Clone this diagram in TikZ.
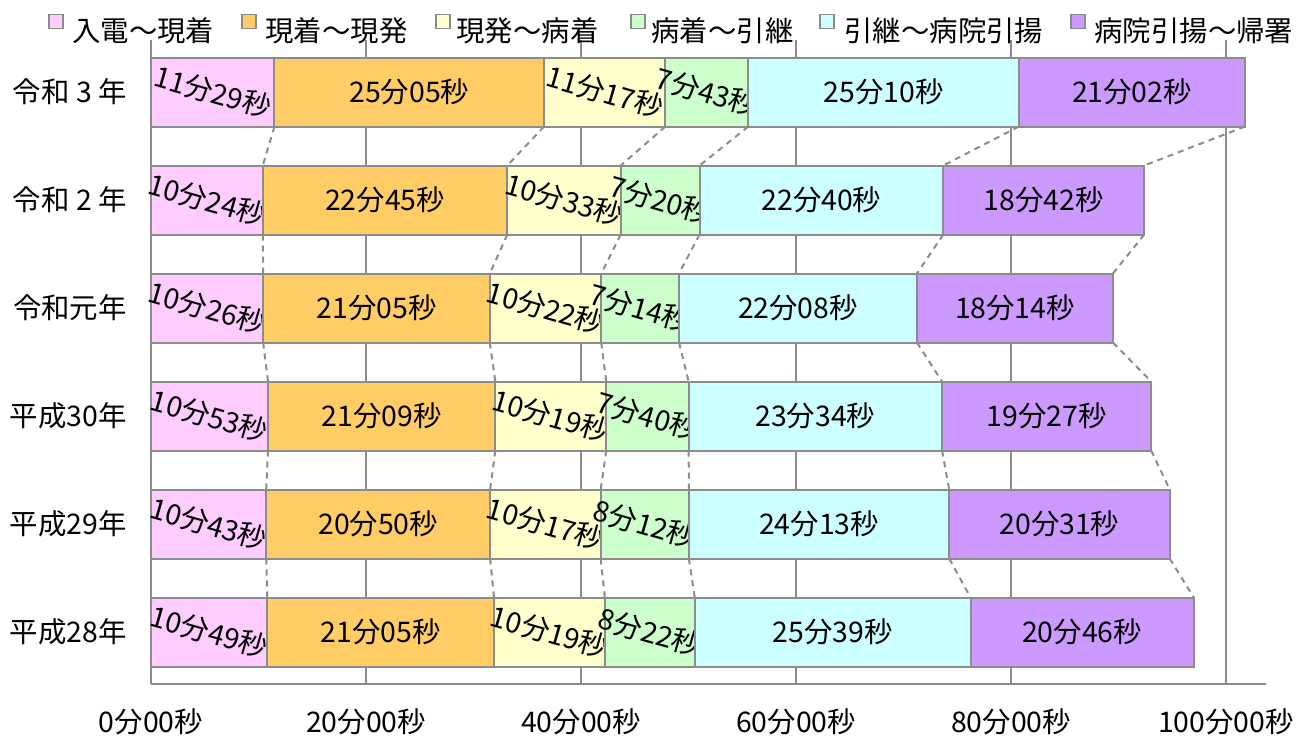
\documentclass[tikz,border=0pt]{standalone}
\usepackage{fontspec}
\setmainfont{Noto Sans CJK JP}
\usepackage{xcolor}
\definecolor{c1}{HTML}{FFCCFF}
\definecolor{c2}{HTML}{FFCC66}
\definecolor{c3}{HTML}{FFFFCC}
\definecolor{c4}{HTML}{CCFFCC}
\definecolor{c5}{HTML}{CCFFFF}
\definecolor{c6}{HTML}{CC99FF}
\definecolor{grid}{HTML}{8C8C8C}
\newcommand\fs{\fontsize{14.2}{16}\selectfont}

\begin{document}
\begin{tikzpicture}[x=0.5pt,y=-0.5pt,font=\fs,
    seg/.style={draw=grid,line width=1pt,inner sep=0pt,outer sep=0pt,minimum height=34.5pt,anchor=west},
    flat/.style={inner sep=0pt},
    tilt/.style={inner sep=0pt,rotate=-16},
    lab1/.style={tilt},lab2/.style={flat},lab3/.style={tilt},
    lab4/.style={tilt},lab5/.style={flat},lab6/.style={flat},
    key/.style={draw=grid,line width=0.7pt,minimum size=7pt,inner sep=0pt},
    link/.style={draw=grid,line width=1pt,dash pattern=on 3pt off 2.5pt}]
    \useasboundingbox (0,0) rectangle (1298,735);
    \foreach \v [count=\k from 0] in {0,20,40,60,80,100}{
        \draw[grid,line width=1pt] (151+10.75*\v,40) -- (151+10.75*\v,684);
        \node (a\k) at (151+10.75*\v,722) {{\v}分00秒};
    }
    \draw[grid,line width=1pt] (151,684) -- (1266,684);
    \foreach \qx/\tx/\t [count=\k] in {49/72/入電～現着,242/265/現着～現発,436/456/現発～病着,
        631/651/病着～引継,820/844/引継～病院引揚,1071/1094/病院引揚～帰署}{
        \node[key,fill=c\k] (q\k) at (\qx+7,21.5) {};
        \node[anchor=west,inner sep=0pt] (t\k) at (\tx,31) {\t};
    }
    \foreach \yr/\row [count=\i from 0] in {
        {令和 3 年}/{11/29,25/05,11/17,7/43,25/10,21/02},
        {令和 2 年}/{10/24,22/45,10/33,7/20,22/40,18/42},
        {令和元年}/{10/26,21/05,10/22,7/14,22/08,18/14},
        {平成30年}/{10/53,21/09,10/19,7/40,23/34,19/27},
        {平成29年}/{10/43,20/50,10/17,8/12,24/13,20/31},
        {平成28年}/{10/49,21/05,10/19,8/22,25/39,20/46}}{
        \pgfmathsetmacro\yc{92+108*\i}
        \node[anchor=east,inner sep=0pt] (y\i) at (127,\yc) {\yr};
        \gdef\xs{0}
        \foreach \mn/\sc [count=\j] in \row {
            \pgfmathsetmacro\dur{\mn+(1\sc-100)/60}
            \pgfmathsetmacro\segw{5.375*\dur}
            \node[seg,fill=c\j,minimum width=\segw pt] (s\i-\j) at (151+10.75*\xs,\yc) {};
            \node[lab\j] (l\i-\j) at (s\i-\j) {{\mn}分{\sc}秒};
            \pgfmathsetmacro\xe{\xs+\dur}
            \global\let\xs\xe
        }
    }
    \foreach \i [evaluate=\i as \k using int(\i+1)] in {0,...,4}
        \foreach \j in {1,...,6}
            \draw[link] (s\i-\j.south east) -- (s\k-\j.north east);
\end{tikzpicture}
\end{document}
